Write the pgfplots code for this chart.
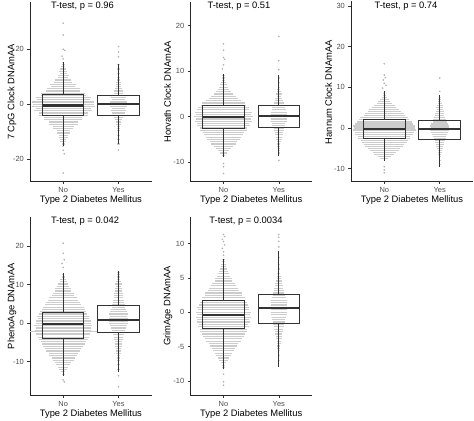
\documentclass[border=0pt]{standalone}
\usepackage{pgfplots}
\pgfplotsset{compat=1.18}
\usepackage{pgfplotstable}
\usepgfplotslibrary{statistics}
\usepackage{fontspec}
\setmainfont{Liberation Sans}
\definecolor{swarmc}{RGB}{204,204,204}
\definecolor{outc}{RGB}{178,178,178}
\definecolor{boxc}{RGB}{51,51,51}
\definecolor{tickc}{RGB}{77,77,77}

% swarm rows: y level and half width (x units)
\pgfplotstableread[row sep=\\]{y w\\ 15.2 .02\\ 14.4 .03\\ 13.6 .04\\ 12.8 .05\\ 12.0 .07\\ 11.2 .06\\ 10.4 .10\\ 9.6 .09\\ 8.8 .15\\ 8.0 .16\\ 7.2 .24\\ 6.4 .22\\ 5.6 .30\\ 4.8 .31\\ 4.0 .40\\ 3.2 .41\\ 2.4 .50\\ 1.6 .48\\ 0.8 .56\\ 0.0 .55\\ -0.8 .57\\ -1.6 .50\\ -2.4 .52\\ -3.2 .44\\ -4.0 .44\\ -4.8 .34\\ -5.6 .34\\ -6.4 .26\\ -7.2 .26\\ -8.0 .19\\ -8.8 .18\\ -9.6 .12\\ -10.4 .12\\ -11.2 .08\\ -12.0 .08\\ -12.8 .05\\ -13.6 .05\\ -14.4 .03\\ -15.2 .02\\}\pAn
\pgfplotstableread[row sep=\\]{y w\\ 14.4 .02\\ 12.8 .02\\ 11.2 .02\\ 9.6 .02\\ 8.8 .03\\ 8.0 .04\\ 7.2 .05\\ 6.4 .04\\ 5.6 .07\\ 4.8 .09\\ 4.0 .08\\ 3.2 .12\\ 2.4 .13\\ 1.6 .12\\ 0.8 .15\\ 0.0 .14\\ -0.8 .15\\ -1.6 .12\\ -2.4 .13\\ -3.2 .11\\ -4.0 .10\\ -4.8 .08\\ -5.6 .07\\ -6.4 .05\\ -7.2 .05\\ -8.0 .03\\ -8.8 .03\\ -9.6 .02\\ -11.2 .02\\ -12.8 .02\\ -14.4 .02\\}\pAy
\pgfplotstableread[row sep=\\]{y w\\ 9.0 .02\\ 8.5 .02\\ 8.0 .03\\ 7.5 .04\\ 7.0 .06\\ 6.5 .08\\ 6.0 .10\\ 5.5 .14\\ 5.0 .17\\ 4.5 .22\\ 4.0 .27\\ 3.5 .31\\ 3.0 .38\\ 2.5 .40\\ 2.0 .46\\ 1.5 .47\\ 1.0 .52\\ 0.5 .50\\ 0.0 .54\\ -0.5 .50\\ -1.0 .52\\ -1.5 .47\\ -2.0 .48\\ -2.5 .43\\ -3.0 .42\\ -3.5 .37\\ -4.0 .36\\ -4.5 .31\\ -5.0 .29\\ -5.5 .25\\ -6.0 .22\\ -6.5 .17\\ -7.0 .14\\ -7.5 .10\\ -8.0 .06\\ -8.5 .03\\}\pBn
\pgfplotstableread[row sep=\\]{y w\\ 8.5 .02\\ 7.5 .02\\ 6.5 .02\\ 6.0 .03\\ 5.5 .04\\ 5.0 .05\\ 4.5 .04\\ 4.0 .06\\ 3.5 .07\\ 3.0 .09\\ 2.5 .08\\ 2.0 .12\\ 1.5 .13\\ 1.0 .15\\ 0.5 .14\\ 0.0 .16\\ -0.5 .14\\ -1.0 .15\\ -1.5 .12\\ -2.0 .12\\ -2.5 .09\\ -3.0 .09\\ -3.5 .07\\ -4.0 .07\\ -4.5 .05\\ -5.0 .05\\ -5.5 .04\\ -6.0 .03\\ -6.5 .03\\ -7.0 .02\\ -7.5 .02\\ -8.0 .02\\}\pBy
\pgfplotstableread[row sep=\\]{y w\\ 8.5 .02\\ 8.0 .03\\ 7.5 .05\\ 7.0 .08\\ 6.5 .11\\ 6.0 .14\\ 5.5 .19\\ 5.0 .22\\ 4.5 .27\\ 4.0 .30\\ 3.5 .35\\ 3.0 .37\\ 2.5 .43\\ 2.0 .45\\ 1.5 .50\\ 1.0 .52\\ 0.5 .56\\ 0.0 .55\\ -0.5 .57\\ -1.0 .53\\ -1.5 .52\\ -2.0 .47\\ -2.5 .47\\ -3.0 .42\\ -3.5 .41\\ -4.0 .36\\ -4.5 .34\\ -5.0 .29\\ -5.5 .26\\ -6.0 .21\\ -6.5 .18\\ -7.0 .12\\ -7.5 .07\\}\pCn
\pgfplotstableread[row sep=\\]{y w\\ 7.5 .02\\ 7.0 .03\\ 6.5 .03\\ 6.0 .04\\ 5.5 .05\\ 5.0 .06\\ 4.5 .05\\ 4.0 .07\\ 3.5 .08\\ 3.0 .08\\ 2.5 .10\\ 2.0 .12\\ 1.5 .13\\ 1.0 .15\\ 0.5 .17\\ 0.0 .16\\ -0.5 .17\\ -1.0 .15\\ -1.5 .14\\ -2.0 .12\\ -2.5 .11\\ -3.0 .09\\ -3.5 .08\\ -4.0 .07\\ -4.5 .06\\ -5.0 .05\\ -5.5 .04\\ -6.0 .04\\ -6.5 .03\\ -7.0 .02\\ -8.0 .02\\ -9.0 .02\\}\pCy
\pgfplotstableread[row sep=\\]{y w\\ 12.6 .02\\ 12.0 .03\\ 11.4 .05\\ 10.8 .06\\ 10.2 .09\\ 9.6 .11\\ 9.0 .14\\ 8.4 .15\\ 7.8 .19\\ 7.2 .20\\ 6.6 .25\\ 6.0 .27\\ 5.4 .31\\ 4.8 .32\\ 4.2 .37\\ 3.6 .39\\ 3.0 .42\\ 2.4 .43\\ 1.8 .47\\ 1.2 .46\\ 0.6 .50\\ 0.0 .50\\ -0.6 .52\\ -1.2 .50\\ -1.8 .51\\ -2.2 .62\\ -2.6 .49\\ -3.0 .49\\ -3.6 .46\\ -4.2 .44\\ -4.8 .41\\ -5.4 .39\\ -6.0 .36\\ -6.6 .32\\ -7.2 .31\\ -7.8 .26\\ -8.4 .25\\ -9.0 .21\\ -9.6 .19\\ -10.2 .15\\ -10.8 .13\\ -11.4 .09\\ -12.0 .07\\ -12.6 .04\\ -13.2 .03\\}\pDn
\pgfplotstableread[row sep=\\]{y w\\ 13.2 .02\\ 12.6 .02\\ 12.0 .02\\ 11.4 .03\\ 10.8 .04\\ 10.2 .06\\ 9.6 .05\\ 9.0 .07\\ 8.4 .06\\ 7.8 .08\\ 7.2 .09\\ 6.6 .08\\ 6.0 .10\\ 5.4 .10\\ 4.8 .12\\ 4.2 .12\\ 3.6 .14\\ 3.0 .15\\ 2.4 .17\\ 1.8 .16\\ 1.2 .18\\ 0.6 .17\\ 0.0 .18\\ -0.6 .15\\ -1.2 .14\\ -1.8 .12\\ -2.4 .11\\ -3.0 .10\\ -3.6 .09\\ -4.2 .08\\ -4.8 .07\\ -5.4 .06\\ -6.0 .06\\ -6.6 .05\\ -7.2 .04\\ -7.8 .04\\ -8.4 .03\\ -9.0 .03\\ -9.6 .02\\ -10.8 .02\\ -12.0 .02\\}\pDy
\pgfplotstableread[row sep=\\]{y w\\ 7.7 .02\\ 7.35 .03\\ 7.0 .04\\ 6.65 .05\\ 6.3 .06\\ 5.95 .08\\ 5.6 .10\\ 5.25 .12\\ 4.9 .15\\ 4.55 .16\\ 4.2 .21\\ 3.85 .22\\ 3.5 .27\\ 3.15 .28\\ 2.8 .33\\ 2.45 .34\\ 2.1 .39\\ 1.75 .39\\ 1.4 .43\\ 1.05 .44\\ 0.7 .47\\ 0.35 .46\\ 0.0 .49\\ -0.35 .48\\ -0.7 .50\\ -1.05 .47\\ -1.4 .48\\ -1.75 .45\\ -2.1 .46\\ -2.45 .42\\ -2.8 .42\\ -3.15 .38\\ -3.5 .37\\ -3.85 .33\\ -4.2 .31\\ -4.55 .27\\ -4.9 .25\\ -5.25 .21\\ -5.6 .19\\ -5.95 .15\\ -6.3 .13\\ -6.65 .10\\ -7.0 .08\\ -7.35 .05\\ -7.7 .03\\ -8.05 .02\\}\pEn
\pgfplotstableread[row sep=\\]{y w\\ 8.0 .02\\ 7.0 .02\\ 6.3 .02\\ 5.6 .03\\ 5.25 .04\\ 4.9 .04\\ 4.55 .05\\ 4.2 .06\\ 3.85 .07\\ 3.5 .08\\ 3.15 .09\\ 2.8 .10\\ 2.45 .11\\ 2.1 .13\\ 1.75 .14\\ 1.4 .15\\ 1.05 .14\\ 0.7 .16\\ 0.35 .15\\ 0.0 .15\\ -0.35 .14\\ -0.7 .13\\ -1.05 .12\\ -1.4 .11\\ -1.75 .10\\ -2.1 .09\\ -2.45 .08\\ -2.8 .07\\ -3.15 .06\\ -3.5 .05\\ -3.85 .05\\ -4.2 .04\\ -4.55 .04\\ -4.9 .03\\ -5.25 .03\\ -5.6 .02\\ -6.3 .02\\ -7.0 .02\\}\pEy

\pgfplotsset{
  panel/.style={scale only axis, anchor=south west,
    axis lines=left, axis line style={-, line width=0.8bp, draw=black!85},
    tick align=outside, major tick length=2.6bp,
    tick style={line width=0.6bp, draw=black!80},
    xmin=0.4, xmax=2.6, xtick={1,2}, xticklabels={No,Yes},
    ticklabel style={font=\fontsize{7.5}{8}\selectfont, text=tickc},
    /pgf/number format/assume math mode=true},
  swarm/.style={quiver={u={2*\thisrow{w}}, v=0}, -, mark=none,
    draw=swarmc, line width=1.2bp, solid},
  outl/.style={only marks, mark=*, mark size=0.6bp, draw=outc, fill=outc},
  bx/.style={boxplot prepared={#1, box extend=0.75, whisker extend=0, draw direction=y},
    draw=boxc, line width=1bp, solid, fill=none, mark=none,
    boxplot/every median/.style={line width=2.3bp},
    boxplot/every whisker/.style={line width=1.2bp}},
}

\newcommand{\lab}{\fontsize{9.4}{11}\selectfont}

\begin{document}
\begin{tikzpicture}
\useasboundingbox (0,0) rectangle (474bp,421bp);

% ---------- Panel 1 ----------
\begin{axis}[panel, at={(30bp,239.5bp)}, width=121.7bp, height=179.5bp,
  ymin=-28.07, ymax=37.2, ytick={-20,0,20}]
\addplot[swarm] table[x expr=1-\thisrow{w}, y=y] {\pAn};
\addplot[swarm] table[x expr=2-\thisrow{w}, y=y] {\pAy};
\addplot[outl] coordinates {(1,29.5) (1,25.2) (1,20) (1.03,19.6) (0.98,17.5) (1,16.5) (1,-16.7) (1.02,-18) (1,-25)};
\addplot[outl] coordinates {(2,21) (2,19) (2,17.3) (2,-16.6)};
\addplot[bx={draw position=1, lower whisker=-15.2, lower quartile=-4.0, median=-0.4, upper quartile=3.6, upper whisker=15.4}] coordinates {};
\addplot[bx={draw position=2, lower whisker=-14.5, lower quartile=-4.2, median=0.0, upper quartile=3.3, upper whisker=14.7}] coordinates {};
\end{axis}

% ---------- Panel 2 ----------
\begin{axis}[panel, at={(190.3bp,239.5bp)}, width=121.7bp, height=179.5bp,
  ymin=-14.24, ymax=25.2, ytick={-10,0,10,20}]
\addplot[swarm] table[x expr=1-\thisrow{w}, y=y] {\pBn};
\addplot[swarm] table[x expr=2-\thisrow{w}, y=y] {\pBy};
\addplot[outl] coordinates {(1,16) (1,14.6) (1,13) (1.02,12.6) (1,11.4) (0.98,10.5) (1,-10.3) (1,-11) (1,-12.5)};
\addplot[outl] coordinates {(2,17.6) (2,12.3) (2,10.3) (2,-9.6)};
\addplot[bx={draw position=1, lower whisker=-8.9, lower quartile=-2.5, median=-0.1, upper quartile=2.35, upper whisker=9.4}] coordinates {};
\addplot[bx={draw position=2, lower whisker=-8.6, lower quartile=-2.3, median=0.2, upper quartile=2.35, upper whisker=9.2}] coordinates {};
\end{axis}

% ---------- Panel 3 ----------
\begin{axis}[panel, at={(351bp,239.5bp)}, width=122bp, height=180.5bp,
  ymin=-13.13, ymax=31.2, ytick={-10,0,10,20,30}]
\addplot[swarm] table[x expr=1-\thisrow{w}, y=y] {\pCn};
\addplot[swarm] table[x expr=2-\thisrow{w}, y=y] {\pCy};
\addplot[outl] coordinates {(1,15.8) (1,13) (1.02,12.4) (0.98,11.8) (1,11) (1.03,10.5) (0.97,9.8) (1,-9.5) (1,-10.3) (1,-11)};
\addplot[outl] coordinates {(2,12.3) (2,9.0)};
\addplot[bx={draw position=1, lower whisker=-8.0, lower quartile=-2.45, median=-0.2, upper quartile=2.2, upper whisker=9.0}] coordinates {};
\addplot[bx={draw position=2, lower whisker=-9.5, lower quartile=-2.8, median=-0.3, upper quartile=1.8, upper whisker=8.0}] coordinates {};
\end{axis}

% ---------- Panel 4 ----------
\begin{axis}[panel, at={(30bp,25.7bp)}, width=121.7bp, height=178.3bp,
  ymin=-18.7, ymax=27.6, ytick={-10,0,10,20}]
\addplot[swarm] table[x expr=1-\thisrow{w}, y=y] {\pDn};
\addplot[swarm] table[x expr=2-\thisrow{w}, y=y] {\pDy};
\addplot[outl] coordinates {(1,20.8) (1,18.2) (1.02,16.5) (0.98,15.5) (1,14.5) (1,-14.7) (1.02,-15.2)};
\addplot[outl] coordinates {(2,-13.6) (2,-16.5)};
\addplot[bx={draw position=1, lower whisker=-13.6, lower quartile=-3.9, median=-0.26, upper quartile=2.86, upper whisker=13.0}] coordinates {};
\addplot[bx={draw position=2, lower whisker=-12.6, lower quartile=-2.44, median=0.78, upper quartile=4.57, upper whisker=13.7}] coordinates {};
\end{axis}

% ---------- Panel 5 ----------
\begin{axis}[panel, at={(190.3bp,25.7bp)}, width=121.7bp, height=178.3bp,
  ymin=-12.06, ymax=13.85, ytick={-10,-5,0,5,10}]
\addplot[swarm] table[x expr=1-\thisrow{w}, y=y] {\pEn};
\addplot[swarm] table[x expr=2-\thisrow{w}, y=y] {\pEy};
\addplot[outl] coordinates {(1,11.3) (1.02,11) (0.98,10.6) (1,10.3) (1.02,9.8) (0.98,9.3) (1,8.8) (1,8.3) (1,-9.0) (1,-10.1) (1,-10.6)};
\addplot[outl] coordinates {(2,11.3) (2,10.9) (2,10.3) (2,9.5)};
\addplot[bx={draw position=1, lower whisker=-8.24, lower quartile=-2.35, median=-0.39, upper quartile=1.7, upper whisker=7.7}] coordinates {};
\addplot[bx={draw position=2, lower whisker=-8.0, lower quartile=-1.58, median=0.6, upper quartile=2.64, upper whisker=8.9}] coordinates {};
\end{axis}

% ---------- titles and labels ----------
\node[font=\lab] at (82.5bp,414.5bp) {T-test, p = 0.96};
\node[font=\lab] at (239bp,414.3bp) {T-test, p = 0.51};
\node[font=\lab] at (406bp,414.3bp) {T-test, p = 0.74};
\node[font=\lab] at (85bp,200bp) {T-test, p = 0.042};
\node[font=\lab] at (246bp,200bp) {T-test, p = 0.0034};

\node[font=\lab] at (90.9bp,221bp) {Type 2 Diabetes Mellitus};
\node[font=\lab] at (251.2bp,221bp) {Type 2 Diabetes Mellitus};
\node[font=\lab] at (412bp,221bp) {Type 2 Diabetes Mellitus};
\node[font=\lab] at (90.9bp,7bp) {Type 2 Diabetes Mellitus};
\node[font=\lab] at (251.2bp,7bp) {Type 2 Diabetes Mellitus};

\node[font=\lab, rotate=90] at (12bp,329bp) {7 CpG Clock DNAmAA};
\node[font=\lab, rotate=90] at (167.5bp,329bp) {Horvath Clock DNAmAA};
\node[font=\lab, rotate=90] at (328.5bp,329bp) {Hannum Clock DNAmAA};
\node[font=\lab, rotate=90] at (12bp,115bp) {PhenoAge DNAmAA};
\node[font=\lab, rotate=90] at (168bp,115bp) {GrimAge DNAmAA};
\end{tikzpicture}
\end{document}
